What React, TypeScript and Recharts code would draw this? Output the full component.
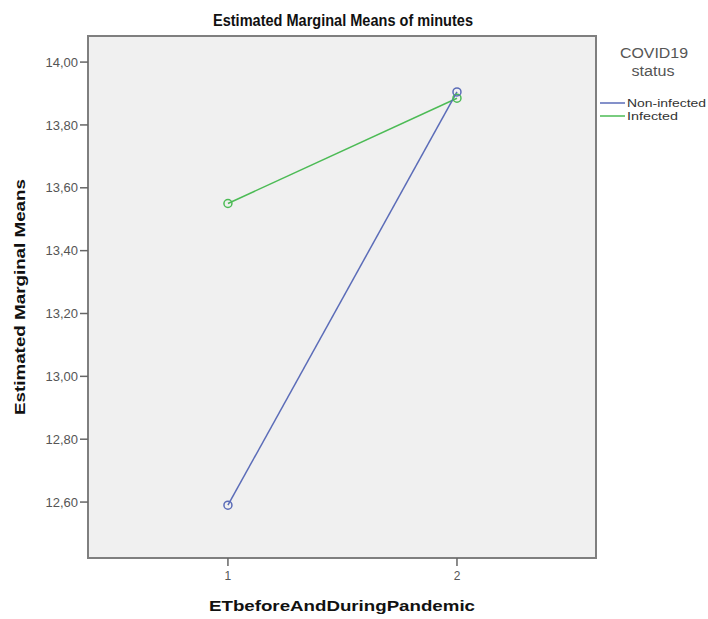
import React from "react";
import { LineChart, Line, XAxis, YAxis, ReferenceArea } from "recharts";

const xCategories = [1, 2];
const nonInfectedValues = [12.59, 13.905];
const infectedValues = [13.55, 13.885];
const yTicks = [12.6, 12.8, 13.0, 13.2, 13.4, 13.6, 13.8, 14.0];
const xTicks = [1, 2];
const seriesNames = ["Non-infected", "Infected"];
const legendTitle = ["COVID19", "status"];
const chartTitle = "Estimated Marginal Means of minutes";
const xTitle = "ETbeforeAndDuringPandemic";
const yTitle = "Estimated Marginal Means";

const X_DOMAIN: [number, number] = [0.389, 2.607];
const Y_DOMAIN: [number, number] = [12.422, 14.083];

const BLUE = "#5b6cb8";
const GREEN = "#4cbb55";
const FONT = "Arial, 'Liberation Sans', sans-serif";

const data = xCategories.map((x, i) => ({
  x,
  nonInfected: nonInfectedValues[i],
  infected: infectedValues[i],
}));

const fmt = (v: number) => v.toFixed(2).replace(".", ",");

const HollowDot = (color: string) => (props: any) => {
  const { cx, cy, index } = props;
  if (cx == null || cy == null) return <g key={index} />;
  return (
    <circle
      key={index}
      cx={cx}
      cy={cy}
      r={4}
      fill="none"
      stroke={color}
      strokeWidth={1.5}
    />
  );
};

export default function App() {
  return (
    <div style={{ position: "absolute", left: 0, top: 0, width: 708, height: 619, background: "#fff" }}>
      <LineChart
        width={708}
        height={619}
        data={data}
        margin={{ top: 36, right: 112, bottom: 31, left: 28 }}
      >
        <XAxis
          dataKey="x"
          type="number"
          domain={X_DOMAIN}
          ticks={xTicks}
          allowDataOverflow
          height={30}
          axisLine={false}
          tickLine={{ stroke: "#666", strokeWidth: 1.5 }}
          tickSize={8}
          tickMargin={5}
          tick={{ fill: "#555", fontSize: 12, fontFamily: FONT }}
        />
        <YAxis
          type="number"
          domain={Y_DOMAIN}
          ticks={yTicks}
          allowDataOverflow
          width={60}
          axisLine={false}
          tickLine={{ stroke: "#666", strokeWidth: 1.5 }}
          tickSize={8}
          tickMargin={2}
          tickFormatter={fmt}
          tick={{ fill: "#555", fontSize: 13, fontFamily: FONT }}
        />
        <ReferenceArea
          x1={X_DOMAIN[0]}
          x2={X_DOMAIN[1]}
          y1={Y_DOMAIN[0]}
          y2={Y_DOMAIN[1]}
          fill="#f0f0f0"
          fillOpacity={1}
          stroke="#7f7f7f"
          strokeWidth={2}
          ifOverflow="visible"
        />
        <Line
          dataKey="infected"
          name={seriesNames[1]}
          stroke={GREEN}
          strokeWidth={1.5}
          dot={HollowDot(GREEN)}
          activeDot={false}
          isAnimationActive={false}
        />
        <Line
          dataKey="nonInfected"
          name={seriesNames[0]}
          stroke={BLUE}
          strokeWidth={1.5}
          dot={HollowDot(BLUE)}
          activeDot={false}
          isAnimationActive={false}
        />
      </LineChart>
      <svg
        width={708}
        height={619}
        style={{ position: "absolute", left: 0, top: 0, pointerEvents: "none" }}
      >
        <text
          x={343}
          y={26}
          textAnchor="middle"
          fontFamily={FONT}
          fontWeight="bold"
          fontSize={17}
          fill="#111"
          textLength={260}
          lengthAdjust="spacingAndGlyphs"
        >
          {chartTitle}
        </text>
        <text
          x={342}
          y={611}
          textAnchor="middle"
          fontFamily={FONT}
          fontWeight="bold"
          fontSize={15}
          fill="#111"
          textLength={266}
          lengthAdjust="spacingAndGlyphs"
        >
          {xTitle}
        </text>
        <text
          transform="translate(25,297) rotate(-90)"
          x={0}
          y={0}
          textAnchor="middle"
          fontFamily={FONT}
          fontWeight="bold"
          fontSize={14}
          fill="#111"
          textLength={236}
          lengthAdjust="spacingAndGlyphs"
        >
          {yTitle}
        </text>
        <text x={654} y={58} textAnchor="middle" fontFamily={FONT} fontSize={14} fill="#555" textLength={68} lengthAdjust="spacingAndGlyphs">
          {legendTitle[0]}
        </text>
        <text x={653} y={76} textAnchor="middle" fontFamily={FONT} fontSize={14} fill="#555" textLength={43} lengthAdjust="spacingAndGlyphs">
          {legendTitle[1]}
        </text>
        <line x1={600} x2={625} y1={103} y2={103} stroke={BLUE} strokeWidth={1.5} />
        <text x={627} y={107} fontFamily={FONT} fontSize={11} fill="#333" textLength={79} lengthAdjust="spacingAndGlyphs">
          {seriesNames[0]}
        </text>
        <line x1={600} x2={625} y1={116} y2={116} stroke={GREEN} strokeWidth={1.5} />
        <text x={627} y={120} fontFamily={FONT} fontSize={11} fill="#333" textLength={51} lengthAdjust="spacingAndGlyphs">
          {seriesNames[1]}
        </text>
      </svg>
    </div>
  );
}
